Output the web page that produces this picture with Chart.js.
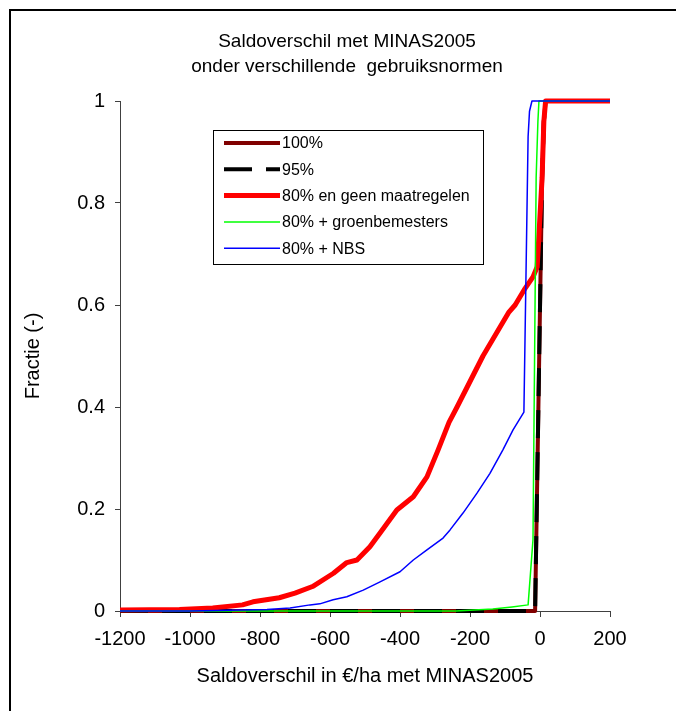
<!DOCTYPE html>
<html>
<head>
<meta charset="utf-8">
<title>Saldoverschil met MINAS2005</title>
<script src="https://cdn.jsdelivr.net/npm/chart.js@4.4.0/dist/chart.umd.min.js"></script>
<style>
  html, body { margin: 0; padding: 0; background: #fff; }
  #wrap { position: relative; width: 676px; height: 711px; }
</style>
</head>
<body>
<div id="wrap"><canvas id="saldo" width="676" height="711"></canvas></div>
<script>
// cumulatieve verdeling van het saldoverschil (euro/ha) per gebruiksnorm
const titleLines = ['Saldoverschil met MINAS2005', 'onder verschillende  gebruiksnormen'];
const xTicks = [-1200, -1000, -800, -600, -400, -200, 0, 200];
const yTicks = [0, 0.2, 0.4, 0.6, 0.8, 1];

const seriesNames = ['100%', '95%', '80% en geen maatregelen', '80% + groenbemesters', '80% + NBS'];

// 100% en 95% vallen samen
const x100 = [-1200, -14, 6, 11, 16, 200];
const y100 = [0, 0, 0.85, 0.96, 1, 1];
const x95 = [-1200, -14, 6, 11, 16, 200];
const y95 = [0, 0, 0.85, 0.96, 1, 1];

const x80 = [-1200, -1030, -935, -850, -820, -745, -700, -650, -590, -552, -523, -486, -457, -409,
  -362, -323, -291, -260, -237, -200, -163, -120, -90, -71, -45, -20, -8, 6, 11, 16, 200];
const y80 = [0.002, 0.003, 0.006, 0.012, 0.018, 0.026, 0.035, 0.048, 0.074, 0.095, 0.1, 0.126, 0.153, 0.198,
  0.224, 0.263, 0.316, 0.37, 0.4, 0.45, 0.5, 0.55, 0.585, 0.6, 0.63, 0.655, 0.675, 0.85, 0.96, 1, 1];

const xGroen = [-1200, -240, -135, -80, -34, -20, -11, -6, -3, 200];
const yGroen = [0, 0, 0.004, 0.008, 0.012, 0.14, 0.85, 0.96, 1, 1];

const xNbs = [-1200, -1000, -780, -714, -657, -629, -591, -552, -505, -457, -400, -362, -323, -277,
  -257, -220, -180, -143, -106, -77, -46, -34, -30, -23, 200];
const yNbs = [0, 0, 0.003, 0.006, 0.012, 0.014, 0.022, 0.028, 0.041, 0.057, 0.077, 0.1, 0.12, 0.143,
  0.159, 0.192, 0.231, 0.27, 0.316, 0.355, 0.39, 0.93, 0.98, 1, 1];

function pts(xs, ys) {
  return xs.map((x, i) => ({ x: x, y: ys[i] }));
}

const fontFam = '"Liberation Sans", Arial, sans-serif';

// kader, witte achtergrond en titel
const frameAndTitle = {
  id: 'frameAndTitle',
  beforeDraw(chart) {
    const ctx = chart.ctx;
    ctx.save();
    ctx.fillStyle = '#fff';
    ctx.fillRect(0, 0, chart.width, chart.height);
    ctx.strokeStyle = '#000';
    ctx.lineWidth = 2;
    ctx.beginPath();
    ctx.moveTo(10, chart.height);
    ctx.lineTo(10, 10);
    ctx.lineTo(chart.width, 10);
    ctx.stroke();
    ctx.fillStyle = '#000';
    ctx.font = '19px ' + fontFam;
    ctx.textAlign = 'center';
    ctx.textBaseline = 'middle';
    titleLines.forEach((t, i) => ctx.fillText(t, 347, 42 + i * 25));
    ctx.restore();
  }
};

// legenda in een kader binnen het grafiekvlak
const boxLegend = {
  id: 'boxLegend',
  afterDatasetsDraw(chart) {
    const ctx = chart.ctx;
    ctx.save();
    ctx.fillStyle = '#fff';
    ctx.fillRect(213, 130, 270, 134);
    ctx.strokeStyle = '#000';
    ctx.lineWidth = 1;
    ctx.strokeRect(213.5, 130.5, 270, 134);
    ctx.font = '16px ' + fontFam;
    ctx.textAlign = 'left';
    ctx.textBaseline = 'middle';
    chart.data.datasets.forEach((ds, i) => {
      const y = 143 + i * 26.3;
      ctx.beginPath();
      ctx.setLineDash(ds.borderDash || []);
      ctx.lineWidth = ds.borderWidth;
      ctx.strokeStyle = ds.borderColor;
      ctx.moveTo(224, y);
      ctx.lineTo(280, y);
      ctx.stroke();
      ctx.setLineDash([]);
      ctx.fillStyle = '#000';
      ctx.fillText(ds.label, 282, y + 1);
    });
    ctx.restore();
  }
};

const lineDefaults = { fill: false, tension: 0, pointRadius: 0, clip: false, borderCapStyle: 'butt', borderJoinStyle: 'round' };

new Chart(document.getElementById('saldo'), {
  type: 'line',
  data: {
    datasets: [
      Object.assign({ label: seriesNames[0], data: pts(x100, y100), borderColor: '#800000', borderWidth: 4, order: 5 }, lineDefaults),
      Object.assign({ label: seriesNames[1], data: pts(x95, y95), borderColor: '#000000', borderWidth: 4, borderDash: [28, 14], order: 4 }, lineDefaults),
      Object.assign({ label: seriesNames[2], data: pts(x80, y80), borderColor: '#ff0000', borderWidth: 5, order: 3 }, lineDefaults),
      Object.assign({ label: seriesNames[3], data: pts(xGroen, yGroen), borderColor: '#00ff00', borderWidth: 1.5, order: 2 }, lineDefaults),
      Object.assign({ label: seriesNames[4], data: pts(xNbs, yNbs), borderColor: '#0000ff', borderWidth: 1.5, order: 1 }, lineDefaults)
    ]
  },
  options: {
    responsive: false,
    animation: false,
    devicePixelRatio: 1,
    events: [],
    layout: { padding: { left: 0, top: 101, right: 66, bottom: 0 } },
    plugins: {
      legend: { display: false },
      tooltip: { enabled: false },
      title: { display: false }
    },
    scales: {
      x: {
        type: 'linear',
        min: -1200,
        max: 200,
        afterBuildTicks: (s) => { s.ticks = xTicks.map(v => ({ value: v })); },
        afterFit: (s) => { s.height = 100; },
        ticks: {
          autoSkip: false,
          maxRotation: 0,
          padding: 10,
          color: '#000',
          font: { family: fontFam, size: 20 },
          callback: (v) => String(v)
        },
        grid: { drawOnChartArea: false, drawTicks: true, tickLength: 6, color: '#404040' },
        border: { display: true, color: '#404040', width: 1 },
        title: {
          display: true,
          text: 'Saldoverschil in €/ha met MINAS2005',
          color: '#000',
          font: { family: fontFam, size: 20 },
          padding: { top: 0, bottom: 23 }
        }
      },
      y: {
        type: 'linear',
        min: 0,
        max: 1,
        afterBuildTicks: (s) => { s.ticks = yTicks.map(v => ({ value: v })); },
        afterFit: (s) => { s.width = 120; },
        ticks: {
          padding: 10,
          color: '#000',
          font: { family: fontFam, size: 20 },
          callback: (v) => String(v)
        },
        grid: { drawOnChartArea: false, drawTicks: true, tickLength: 5, color: '#404040' },
        border: { display: true, color: '#404040', width: 1 },
        title: {
          display: true,
          text: 'Fractie (-)',
          color: '#000',
          font: { family: fontFam, size: 20 },
          padding: { top: 21, bottom: 0 }
        }
      }
    }
  },
  plugins: [frameAndTitle, boxLegend]
});
</script>
</body>
</html>
